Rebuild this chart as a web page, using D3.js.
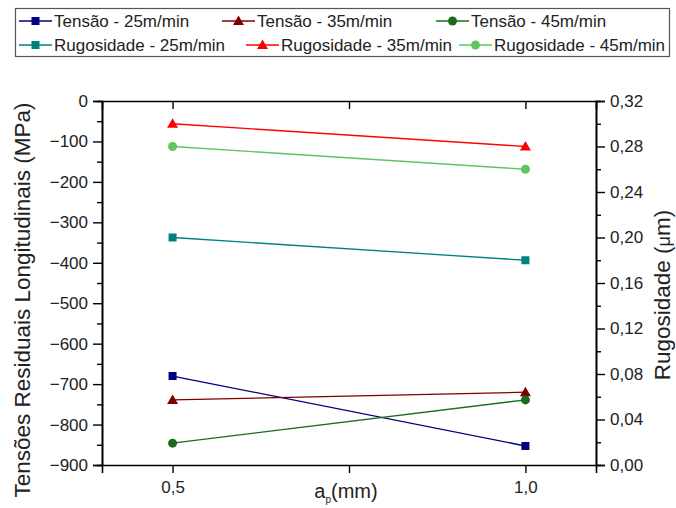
<!DOCTYPE html>
<html><head><meta charset="utf-8">
<script src="https://cdn.jsdelivr.net/npm/d3@7"></script>
<style>body{margin:0;background:#fff}svg{display:block;font-family:"Liberation Sans",Arial,sans-serif}</style>
</head><body>
<script>
const xValues = [0.5, 1.0];
const xTicks = [0.5, 0.75, 1.0];
const xTickLabels = ["0,5", "", "1,0"];
const tensao25 = [-680, -853];
const tensao35 = [-739, -720];
const tensao45 = [-846, -739];
const rug25 = [0.20, 0.18];
const rug35 = [0.30, 0.28];
const rug45 = [0.28, 0.26];
const leftTicks = [0, -100, -200, -300, -400, -500, -600, -700, -800, -900];
const rightTicks = [0, 0.04, 0.08, 0.12, 0.16, 0.20, 0.24, 0.28, 0.32];
const seriesNames = ["Tensão - 25m/min", "Tensão - 35m/min", "Tensão - 45m/min",
  "Rugosidade - 25m/min", "Rugosidade - 35m/min", "Rugosidade - 45m/min"];

const FONT = "'Liberation Sans', Arial, sans-serif";
const W = 676, H = 508;
const M = {left: 102, right: 596, top: 101, bottom: 465};
const svg = d3.select("body").append("svg").attr("width", W).attr("height", H).attr("font-family", FONT);

const x = d3.scaleLinear().domain([0.4, 1.1]).range([M.left, M.right]);
const yL = d3.scaleLinear().domain([-900, 0]).range([M.bottom, M.top]);
const yR = d3.scaleLinear().domain([0, 0.32]).range([M.bottom, M.top]);

const series = [
  {name: seriesNames[0], vals: tensao25, y: yL, color: "#000080", shape: "square"},
  {name: seriesNames[1], vals: tensao35, y: yL, color: "#800000", shape: "triangle"},
  {name: seriesNames[2], vals: tensao45, y: yL, color: "#1a6b1a", shape: "circle"},
  {name: seriesNames[3], vals: rug25, y: yR, color: "#008080", shape: "square"},
  {name: seriesNames[4], vals: rug35, y: yR, color: "#ff0000", shape: "triangle"},
  {name: seriesNames[5], vals: rug45, y: yR, color: "#60c460", shape: "circle"}
];

function marker(g, shape, cx, cy, color) {
  if (shape === "square") {
    g.append("rect").attr("x", cx - 4).attr("y", cy - 4).attr("width", 8).attr("height", 8).attr("fill", color);
  } else if (shape === "triangle") {
    g.append("path").attr("d", `M${cx},${cy-5.5}L${cx+5.5},${cy+4}L${cx-5.5},${cy+4}Z`).attr("fill", color);
  } else {
    g.append("circle").attr("cx", cx).attr("cy", cy).attr("r", 4.5).attr("fill", color);
  }
}

// Axes
const fs = "17px";
const gB = svg.append("g").attr("transform", `translate(0,${M.bottom})`)
  .call(d3.axisBottom(x).tickValues(xTicks).tickFormat((d, i) => xTickLabels[i]).tickSizeOuter(0).tickSize(8).tickPadding(5));
const gT = svg.append("g").attr("transform", `translate(0,${M.top})`)
  .call(d3.axisBottom(x).tickValues(xTicks).tickFormat("").tickSizeOuter(0).tickSize(8));
const gL = svg.append("g").attr("transform", `translate(${M.left},0)`)
  .call(d3.axisLeft(yL).tickValues(leftTicks).tickFormat(d => d3.format("d")(d)).tickSizeOuter(0).tickSize(9).tickPadding(5));
const gLm = svg.append("g").attr("transform", `translate(${M.left},0)`)
  .call(d3.axisLeft(yL).tickValues(d3.range(-850, 0, 100)).tickFormat("").tickSizeOuter(0).tickSize(5));
const gR = svg.append("g").attr("transform", `translate(${M.right},0)`)
  .call(d3.axisRight(yR).tickValues(rightTicks).tickFormat(d => d.toFixed(2).replace(".", ",")).tickSizeOuter(0).tickSize(9).tickPadding(5));
const gRm = svg.append("g").attr("transform", `translate(${M.right},0)`)
  .call(d3.axisRight(yR).tickValues([0.02, 0.06, 0.10, 0.14, 0.18, 0.22, 0.26, 0.30]).tickFormat("").tickSizeOuter(0).tickSize(5));
[gB, gT, gL, gLm, gR, gRm].forEach(g => {
  g.attr("font-family", FONT);
  g.selectAll("path.domain").attr("stroke", "#000").attr("stroke-width", 1.6);
  g.selectAll(".tick line").attr("stroke", "#000").attr("stroke-width", 1.4);
  g.selectAll("text").attr("font-size", fs).attr("fill", "#222").attr("font-family", FONT);
});
gB.selectAll("text").attr("dy", "0.9em");

// Series
const plot = svg.append("g");
series.forEach(s => {
  const line = d3.line().x((d, i) => x(xValues[i])).y(d => s.y(d));
  plot.append("path").attr("d", line(s.vals)).attr("fill", "none").attr("stroke", s.color).attr("stroke-width", 1.3);
  s.vals.forEach((v, i) => marker(plot, s.shape, x(xValues[i]), s.y(v), s.color));
});

// Axis titles
svg.append("text").attr("transform", `translate(30,300) rotate(-90)`)
  .attr("text-anchor", "middle").attr("font-size", "22.5px").attr("fill", "#222")
  .text("Tensões Residuais Longitudinais (MPa)");
const rt = svg.append("text").attr("transform", `translate(670,295) rotate(-90)`)
  .attr("text-anchor", "middle").attr("font-size", "22.5px").attr("fill", "#222");
rt.append("tspan").text("Rugosidade (");
rt.append("tspan").attr("font-size", "18px").text("μ");
rt.append("tspan").text("m)");
const xt = svg.append("text").attr("x", 346).attr("y", 498).attr("text-anchor", "middle").attr("font-size", "20px").attr("fill", "#222");
xt.append("tspan").text("a");
xt.append("tspan").attr("font-size", "10px").attr("dy", 5).text("p");
xt.append("tspan").attr("dy", -5).text("(mm)");

// Legend
const lg = svg.append("g");
lg.append("rect").attr("x", 15.5).attr("y", 8.5).attr("width", 654).attr("height", 48)
  .attr("fill", "#fff").attr("stroke", "#555").attr("stroke-width", 1.2);
const legendPos = [[19, 21], [222, 21], [436, 21], [19, 45], [246, 45], [459, 45]];
series.forEach((s, i) => {
  const [lx, ly] = legendPos[i];
  lg.append("line").attr("x1", lx).attr("x2", lx + 33).attr("y1", ly).attr("y2", ly).attr("stroke", s.color).attr("stroke-width", 1.3);
  marker(lg, s.shape, lx + 16.5, ly, s.color);
  lg.append("text").attr("x", lx + 35).attr("y", ly + 6).attr("font-size", "17px").attr("fill", "#222").text(s.name);
});
</script>
</body></html>
